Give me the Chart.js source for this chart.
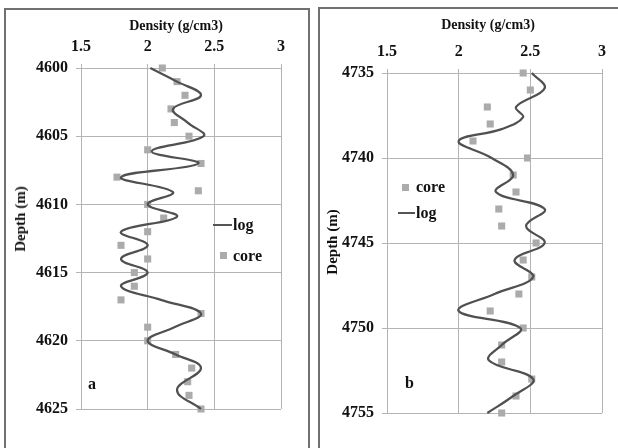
<!DOCTYPE html>
<html>
<head>
<meta charset="utf-8">
<script src="https://cdn.jsdelivr.net/npm/chart.js@4.4.1/dist/chart.umd.min.js"></script>
<style>
  body { margin: 0; background: #fff; width: 618px; height: 448px; overflow: hidden; position: relative; font-family: "Liberation Serif", serif; }
  .frame { position: absolute; border: 2px solid #707070; }
  #frameA { left: 4px; top: 8px; width: 302px; height: 460px; }
  #frameB { left: 318px; top: 7px; width: 320px; height: 460px; }
  canvas { position: absolute; top: 0; }
  #chartA { left: 0; }
  #chartB { left: 319px; }
  .txt { position: absolute; font-weight: bold; font-size: 16px; line-height: 18px; color: #111; white-space: nowrap; }
  .ttl { position: absolute; font-weight: bold; font-size: 14px; line-height: 16px; color: #111; white-space: nowrap; transform: translate(-50%, -50%); }
  .ytl { position: absolute; font-weight: bold; font-size: 15px; line-height: 18px; color: #111; white-space: nowrap; transform: translate(-50%, -50%) rotate(-90deg); }
  .swLine { position: absolute; height: 2px; background: #555; }
  .swBox { position: absolute; width: 7px; height: 7px; background: #ababab; }
</style>
</head>
<body>
<div class="frame" id="frameA"></div>
<div class="frame" id="frameB"></div>
<canvas id="chartA" width="309" height="448"></canvas>
<canvas id="chartB" width="299" height="448"></canvas>

<!-- axis titles -->
<div class="ttl" style="left:176px;top:26px">Density (g/cm3)</div>
<div class="ytl" style="left:20px;top:219px">Depth (m)</div>
<div class="ttl" style="left:488px;top:25px">Density (g/cm3)</div>
<div class="ytl" style="left:332px;top:242px">Depth (m)</div>

<!-- legend a -->
<div class="swLine" style="left:213px;top:224px;width:19px"></div>
<div class="txt" style="left:233px;top:216px">log</div>
<div class="swBox" style="left:220px;top:252px"></div>
<div class="txt" style="left:233px;top:247px">core</div>
<div class="txt" style="left:88px;top:375px">a</div>

<!-- legend b -->
<div class="swBox" style="left:402px;top:184px"></div>
<div class="txt" style="left:416px;top:178px">core</div>
<div class="swLine" style="left:398px;top:212px;width:17px"></div>
<div class="txt" style="left:416px;top:204px">log</div>
<div class="txt" style="left:405px;top:374px">b</div>

<script>
// axis ticks
const densityTicks = [1.5, 2, 2.5, 3];
const depthTicksA = [4600, 4605, 4610, 4615, 4620, 4625];
const depthTicksB = [4735, 4740, 4745, 4750, 4755];

// panel a - core samples
const coreDepthA = [4600, 4601, 4602, 4603, 4604, 4605, 4606, 4607, 4608, 4609, 4610, 4611, 4612,
                    4613, 4614, 4615, 4616, 4617, 4618, 4619, 4620, 4621, 4622, 4623, 4624, 4625];
const coreDensA  = [2.11, 2.22, 2.28, 2.175, 2.2, 2.31, 2.0, 2.4, 1.77, 2.38, 2.0, 2.12, 2.0,
                    1.8, 2.0, 1.9, 1.9, 1.8, 2.4, 2.0, 2.0, 2.21, 2.33, 2.3, 2.31, 2.4];
// panel a - log
const logDepthA = [4600, 4601, 4602, 4603, 4604, 4605, 4606.1, 4607, 4608, 4609.1, 4610, 4610.9, 4612,
                   4613, 4614, 4615, 4616, 4617, 4618, 4619, 4620, 4621, 4622, 4623.6, 4625];
const logDensA  = [2.02, 2.22, 2.40, 2.19, 2.30, 2.42, 2.03, 2.38, 1.80, 2.19, 2.0, 2.22, 1.80,
                   2.0, 1.80, 2.0, 1.80, 2.1, 2.4, 2.2, 2.0, 2.21, 2.40, 2.22, 2.40];

// panel b - core samples
const coreDepthB = [4735, 4736, 4737, 4738, 4739, 4740, 4741, 4742, 4743, 4744, 4745,
                    4746, 4747, 4748, 4749, 4750, 4751, 4752, 4753, 4754, 4755];
const coreDensB  = [2.45, 2.5, 2.2, 2.22, 2.1, 2.48, 2.38, 2.40, 2.28, 2.30, 2.54,
                    2.45, 2.51, 2.42, 2.22, 2.45, 2.30, 2.30, 2.51, 2.40, 2.30];
// panel b - log
const logDepthB = [4735, 4735.9, 4737, 4737.6, 4738.3, 4739, 4740, 4741, 4742, 4743, 4744,
                   4745, 4746, 4747, 4748, 4749, 4750, 4751, 4751.9, 4753, 4754, 4755];
const logDensB  = [2.51, 2.60, 2.40, 2.45, 2.30, 2.00, 2.23, 2.38, 2.26, 2.60, 2.47,
                   2.60, 2.39, 2.52, 2.25, 2.00, 2.43, 2.30, 2.21, 2.52, 2.38, 2.20];

Chart.defaults.font.family = "'Liberation Serif', serif";
Chart.defaults.color = "#111";

const pts = (xs, ys) => xs.map((x, i) => ({ x: x, y: ys[i] }));
const gridColor = "#b4b4b4";

function makeChart(id, o) {
    return new Chart(document.getElementById(id), {
        type: "scatter",
        data: {
            datasets: [
                {
                    label: "log",
                    data: pts(o.logDens, o.logDepth),
                    showLine: true,
                    tension: 0.4,
                    borderColor: "#505050",
                    borderWidth: 2.2,
                    pointRadius: 0,
                    clip: false
                },
                {
                    label: "core",
                    data: pts(o.coreDens, o.coreDepth),
                    pointStyle: "rect",
                    pointRadius: 5,
                    backgroundColor: "#ababab",
                    borderWidth: 0,
                    clip: false
                }
            ]
        },
        options: {
            responsive: false,
            animation: false,
            layout: { padding: { left: 0, top: 0, right: o.padRight, bottom: o.padBottom } },
            plugins: { legend: { display: false }, tooltip: { enabled: false } },
            scales: {
                x: {
                    position: "top",
                    min: 1.5, max: 3,
                    afterBuildTicks: (ax) => { ax.ticks = densityTicks.map(v => ({ value: v })); },
                    afterFit: (ax) => { ax.height = o.xHeight; },
                    ticks: { callback: (v) => String(v), font: { size: 16, weight: "bold" }, padding: 8, maxRotation: 0 },
                    grid: { color: gridColor, tickLength: 4 },
                    border: { color: gridColor }
                },
                y: {
                    reverse: true,
                    min: o.depthTicks[0], max: o.depthTicks[o.depthTicks.length - 1],
                    afterBuildTicks: (ax) => { ax.ticks = o.depthTicks.map(v => ({ value: v })); },
                    afterFit: (ax) => { ax.width = o.yWidth; },
                    ticks: { callback: (v) => String(v), font: { size: 16, weight: "bold" }, padding: 8 },
                    grid: { color: gridColor, tickLength: 5 },
                    border: { color: gridColor }
                }
            }
        }
    });
}

makeChart("chartA", {
    logDens: logDensA, logDepth: logDepthA, coreDens: coreDensA, coreDepth: coreDepthA,
    depthTicks: depthTicksA, padRight: 28, padBottom: 39, xHeight: 68, yWidth: 81
});

makeChart("chartB", {
    logDens: logDensB, logDepth: logDepthB, coreDens: coreDensB, coreDepth: coreDepthB,
    depthTicks: depthTicksB, padRight: 16, padBottom: 35, xHeight: 73, yWidth: 68
});
</script>
</body>
</html>
